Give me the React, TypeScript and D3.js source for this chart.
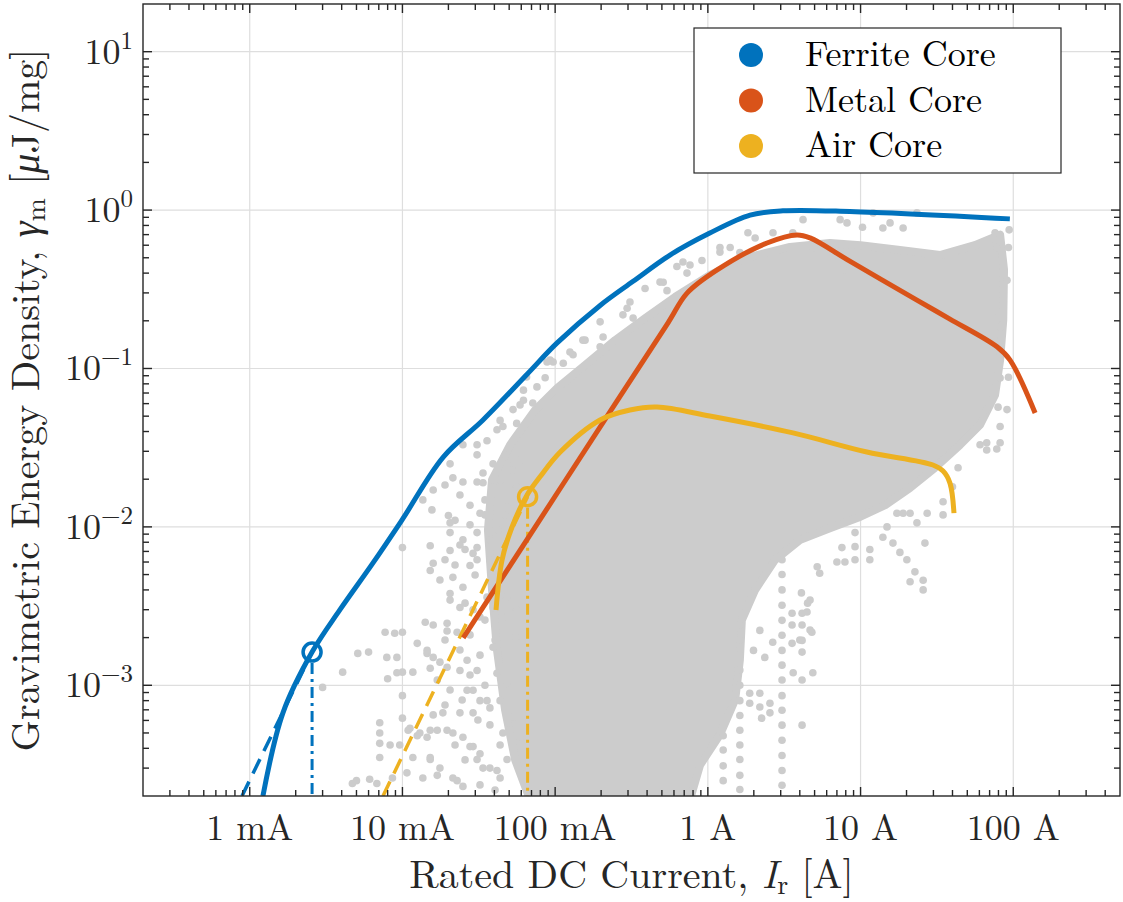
import React from "react";
import * as d3 from "d3";

// ---- values (current in A, energy density in uJ/mg)

// ferrite core bound (solid blue)
const ferriteI = [1.22e-3, 1.65e-3, 2.56e-3, 3.9e-3, 6.4e-3, 9.9e-3, 1.85e-2, 3.37e-2, 6.55e-2, 0.103, 0.197, 0.324, 0.565, 1.03, 1.89, 3.1, 8.5, 95];
const ferriteG = [2.0e-4, 6.7e-4, 1.62e-3, 3.0e-3, 5.9e-3, 1.1e-2, 2.76e-2, 4.73e-2, 9.2e-2, 0.145, 0.25, 0.355, 0.52, 0.716, 0.93, 0.99, 0.98, 0.88];
// metal core bound (orange)
const metalI = [0.025, 0.0769, 0.237, 0.55, 0.731, 1.15, 2.44, 3.84, 4.67, 8.5, 23.4, 38.5, 78.3, 95.3, 139];
const metalG = [1.99e-3, 0.01057, 0.0562, 0.195, 0.299, 0.419, 0.62, 0.697, 0.667, 0.476, 0.27, 0.205, 0.137, 0.113, 0.0524];
// air core bound (yellow)
const airI = [0.041, 0.0449, 0.0522, 0.0655, 0.0796, 0.108, 0.197, 0.309, 0.465, 1.03, 3.61, 11.0, 29.8, 34.7, 38.5, 40.9];
const airG = [2.99e-3, 6.18e-3, 9.98e-3, 0.0159, 0.0207, 0.0297, 0.0473, 0.0547, 0.0571, 0.0501, 0.0392, 0.0297, 0.0246, 0.0225, 0.0189, 0.0122];

// open circle markers + dashed asymptotes below them
const ferriteMark = [2.56e-3, 1.62e-3];
const airMark = [0.066, 0.0155];
const ferriteAsymI = [8.9e-4, 2.56e-3];
const ferriteAsymG = [2e-4, 1.62e-3];
const airAsymI = [7.46e-3, 0.066];
const airAsymG = [2e-4, 0.0155];

// dense part of the inductor cloud (outline)
const cloudI = [0.0506, 0.0738, 0.103, 0.157, 0.247, 0.388, 0.61, 1.03, 1.75, 3.45, 6.3, 10, 18.1, 33.1, 56, 82,
  87, 86, 82, 76, 60.6, 44.8, 30.7, 21.1, 14.5, 10, 6.3, 4.0, 2.75, 2.04, 1.67, 1.62, 1.51, 1.2, 0.89, 0.764,
  0.0684, 0.0547, 0.047, 0.0416, 0.0386, 0.0363, 0.0386];
const cloudG = [0.0329, 0.0547, 0.0753, 0.105, 0.151, 0.208, 0.283, 0.389, 0.498, 0.585, 0.62, 0.6, 0.56, 0.52, 0.6, 0.7,
  0.42, 0.202, 0.113, 0.068, 0.044, 0.0329, 0.0236, 0.0176, 0.0137, 0.0116, 0.0098, 0.00826, 0.00617, 0.004, 0.00258, 0.00144, 0.00081, 0.000486, 0.000314, 0.00019,
  0.00019, 0.000338, 0.000698, 0.00167, 0.004, 0.00956, 0.0198];

// scattered inductors outside the dense part
const scatterPts: [number, number][] = [
  [0.010, 0.0074], [0.0152, 0.0076], [0.0152, 0.0053], [0.020, 0.0118], [0.0159, 0.0059], [0.0205, 0.0071], [0.0205, 0.0038],
  [0.0141, 0.0025], [0.0159, 0.0024], [0.0196, 0.0022], [0.0228, 0.00216], [0.0077, 0.00216], [0.0089, 0.00213], [0.010, 0.00216],
  [0.0051, 0.00159], [0.0060, 0.00162], [0.00406, 0.00121], [0.0030, 0.00097], [0.0092, 0.0015], [0.0079, 0.0015], [0.0125, 0.00184],
  [0.0145, 0.00159], [0.010, 0.00121], [0.0117, 0.00121], [0.0092, 0.0012], [0.0080, 0.0011], [0.010, 0.00086], [0.010, 0.00062],
  [0.0071, 0.00058], [0.0071, 0.0005], [0.0071, 0.00043], [0.0071, 0.00035], [0.0083, 0.00042], [0.0096, 0.00042], [0.0109, 0.00052],
  [0.0130, 0.0005], [0.0152, 0.00052], [0.0159, 0.00065], [0.0184, 0.00067], [0.0238, 0.00067], [0.029, 0.00067], [0.0374, 0.00072],
  [0.0117, 0.00035], [0.0152, 0.00034], [0.0176, 0.0003], [0.0214, 0.00026], [0.0050, 0.00025], [0.0061, 0.000255], [0.0086, 0.00026],
  [0.0238, 0.0031], [0.029, 0.0030], [0.0322, 0.0027], [0.0265, 0.00144], [0.0308, 0.00124], [0.029, 0.0068], [0.0277, 0.0057],
  [0.0358, 0.0036], [0.0392, 0.0031], [0.0392, 0.00174], [0.0436, 0.0008], [0.0455, 0.0005], [0.029, 0.00093], [0.0358, 0.0008],
  [0.0484, 0.00034], [0.0374, 0.0003],
  [0.157, 0.151], [0.131, 0.122], [0.0927, 0.113], [0.113, 0.108], [0.065, 0.0884], [0.076, 0.0765], [0.062, 0.073], [0.062, 0.063],
  [0.0416, 0.041], [0.0455, 0.043], [0.056, 0.045], [0.0249, 0.033], [0.0308, 0.033], [0.0308, 0.0285], [0.0358, 0.035], [0.0205, 0.025],
  [0.0159, 0.0171], [0.0136, 0.0148], [0.0156, 0.0128], [0.0214, 0.0204], [0.0249, 0.0192], [0.0308, 0.0192], [0.0337, 0.0219],
  [0.0205, 0.0106], [0.0205, 0.0092], [0.0249, 0.0083], [0.0308, 0.0092], [0.0257, 0.0072], [0.019, 0.0062], [0.0214, 0.0048],
  [0.0249, 0.00416], [0.0257, 0.0033], [0.0322, 0.0122], [0.0374, 0.0083], [0.0308, 0.0074], [0.0308, 0.0062], [0.0196, 0.00246],
  [0.0484, 0.025], [0.0392, 0.025], [0.0337, 0.019], [0.0392, 0.0179], [0.0484, 0.0134], [0.056, 0.0179], [0.0484, 0.0036],
  [0.0484, 0.0027], [0.056, 0.003], [0.055, 0.002],
  [0.0145, 0.00166], [0.0159, 0.0015], [0.0176, 0.0014], [0.0196, 0.0013], [0.0112, 0.000535], [0.0125, 0.00048], [0.0145, 0.00047],
  [0.0169, 0.00052], [0.0196, 0.00052], [0.0214, 0.0005], [0.0249, 0.00047], [0.0277, 0.00041], [0.0152, 0.00035], [0.0169, 0.00027],
  [0.0107, 0.00028], [0.0136, 0.00026], [0.0249, 0.00023], [0.0228, 0.00025], [0.0068, 0.00024], [0.0047, 0.00024], [0.0308, 0.00034],
  [0.0337, 0.0003], [0.0416, 0.00029], [0.0436, 0.00026], [0.029, 0.00041], [0.0322, 0.00037], [0.0505, 0.00052], [0.053, 0.00063],
  [0.059, 0.00047], [0.0416, 0.00119], [0.0484, 0.00103], [0.0265, 0.00093], [0.0238, 0.00124], [0.0322, 0.0008], [0.0152, 0.00128],
  [0.0169, 0.00108],
  // between 15 mA and 40 mA, left of the dense part
  [0.047, 0.0284], [0.0589, 0.0264], [0.0522, 0.0229], [0.0436, 0.0198],
  [0.019, 0.0184], [0.0238, 0.0159], [0.0277, 0.0137], [0.0347, 0.0148], [0.0221, 0.011], [0.0277, 0.0103], [0.0347, 0.0119],
  [0.0238, 0.00768], [0.0374, 0.00617], [0.0221, 0.00574], [0.0299, 0.00497], [0.0176, 0.00462], [0.0347, 0.00258], [0.0277, 0.00208],
  [0.0205, 0.00345], [0.0404, 0.00193], [0.0238, 0.00167], [0.0322, 0.00155], [0.019, 0.00193],
  [0.0205, 0.000934], [0.0246, 0.000808], [0.0312, 0.000604], [0.0374, 0.000562], [0.0436, 0.00042], [0.0257, 0.000338],
  [0.0322, 0.000235], [0.0404, 0.000218], [0.0221, 0.00042], [0.019, 0.000751], [0.0277, 0.00116], [0.0347, 0.001],
  [0.0436, 0.00664], [0.0436, 0.00371], [0.0423, 0.00956], [0.047, 0.0119],
  // just under the ferrite bound
  [0.0589, 0.0589], [0.086, 0.0874], [0.125, 0.127], [0.197, 0.197], [0.309, 0.263], [0.486, 0.351], [0.764, 0.45], [1.2, 0.543], [2.04, 0.666],
  // high-current side
  [3.56, 0.00285], [4.14, 0.00285], [3.56, 0.0024], [4.14, 0.0024], [3.56, 0.00184], [4.14, 0.00192], [4.14, 0.00162], [3.62, 0.0012],
  [4.87, 0.0012], [4.14, 0.00108], [4.8, 0.00216], [4.5, 0.0033], [1.88, 0.00089], [2.19, 0.00089], [1.88, 0.00077], [2.19, 0.00073],
  [2.55, 0.00077], [2.55, 0.00067], [2.25, 0.00062], [4.14, 0.00056], [1.99, 0.00166], [2.36, 0.0015], [2.66, 0.00187], [2.19, 0.00222],
  [67, 0.055], [82, 0.043], [82, 0.034], [67, 0.0306], [60.6, 0.033], [91, 0.055], [43.5, 0.0236], [40, 0.0179], [34.7, 0.0144],
  [34.7, 0.0119], [27.3, 0.0122], [23.4, 0.0106], [26.4, 0.0079], [16.3, 0.0079], [18.1, 0.0069], [20.1, 0.0062], [22.7, 0.0052],
  [25.7, 0.0046], [25.7, 0.004], [21.1, 0.0045], [11.5, 0.0072], [11.5, 0.0062], [9.2, 0.0092], [9.2, 0.0075], [9.2, 0.0062],
  [7.0, 0.006], [7.9, 0.006], [7.55, 0.0074], [5.4, 0.0051], [5.2, 0.0056], [4.67, 0.00345], [4.46, 0.0029], [4.67, 0.00223],
  [4.0, 0.00193], [4.1, 0.00383], [14, 0.0086], [14.9, 0.01], [17.3, 0.0122], [19, 0.0122], [21.1, 0.0122],
  [94, 0.75], [93, 0.58], [76, 0.72], [78, 0.58], [23.4, 0.96], [19, 0.77], [15.6, 0.83], [14, 0.77], [12.1, 0.96], [10.3, 0.78],
  [91, 0.36], [79.5, 0.208], [82, 0.183], [79.5, 0.057], [67, 0.034], [78, 0.031], [93, 0.088], [82, 0.087],
  [4.2, 0.87], [7.35, 0.87], [8.15, 0.83], [1.83, 0.72], [2.67, 0.72], [1.2, 0.58], [1.4, 0.58], [1.62, 0.54], [0.915, 0.48],
  [0.687, 0.47], [0.627, 0.44], [0.73, 0.40], [0.388, 0.32], [0.51, 0.35], [0.54, 0.31], [0.296, 0.24], [0.278, 0.218], [0.324, 0.208],
  [0.206, 0.158], [0.152, 0.151], [0.197, 0.137], [0.097, 0.11], [0.0885, 0.11], [0.0714, 0.0606], [0.053, 0.055], [0.0436, 0.047],
  [3.6, 0.72], [4.9, 0.58], [6.6, 0.51], [7.7, 0.42],
];

// vertical columns of parts with the same rating
const columnI = [3.06, 1.62, 1.26];
const columnG = [
  [0.0062, 0.005, 0.004, 0.0032, 0.00257, 0.00207, 0.00166, 0.00134, 0.00108, 0.00086, 0.000695, 0.00056, 0.00045, 0.00036, 0.00029, 0.000234],
  [0.0024, 0.00193, 0.00155, 0.00125, 0.001, 0.0008, 0.000645, 0.00052, 0.00042, 0.00034, 0.00027, 0.00022],
  [0.00048, 0.00039, 0.00031, 0.00025],
];

const xTickVals = [1e-3, 1e-2, 1e-1, 1, 10, 100];
const xTickLabels = ["1 mA", "10 mA", "100 mA", "1 A", "10 A", "100 A"];
const yTickVals = [10, 1, 0.1, 0.01, 0.001];
const yTickExps = ["1", "0", "\u22121", "\u22122", "\u22123"];

const legendNames = ["Ferrite Core", "Metal Core", "Air Core"];
const colors = ["#0072BD", "#D95319", "#EDB120"];

const FONT = "'Latin Modern Roman', 'CMU Serif', 'Liberation Serif', serif";

// ----- geometry
const left = 143, right = 1120, top = 4, bottom = 796;
const x = d3.scaleLog().domain([2e-4, 500]).range([left, right]);
const y = d3.scaleLog().domain([2e-4, 20]).range([bottom, top]);

const minorTicks = (dom: number[]) => {
  const out: number[] = [];
  for (let e = -4; e <= 2; e++)
    for (let k = 2; k <= 9; k++) {
      const v = k * Math.pow(10, e);
      if (v > dom[0] && v < dom[1]) out.push(v);
    }
  return out;
};

const zip = (a: number[], b: number[]) => a.map((v, i) => [v, b[i]] as [number, number]);

export default function App() {
  const curve = d3
    .line<[number, number]>()
    .x(d => x(d[0]))
    .y(d => y(d[1]))
    .curve(d3.curveCatmullRom.alpha(0.5));
  const straight = d3
    .line<[number, number]>()
    .x(d => x(d[0]))
    .y(d => y(d[1]));
  const closed = d3
    .line<[number, number]>()
    .x(d => x(d[0]))
    .y(d => y(d[1]))
    .curve(d3.curveLinearClosed);

  const xMinor = minorTicks([2e-4, 500]);
  const yMinor = minorTicks([2e-4, 20]);
  const gray = "#cccccc";
  const axisCol = "#262626";
  const tl = 9;
  const tlm = 6;
  const markR = 9;

  return (
    <svg width={1123} height={902} style={{ position: "absolute", left: 0, top: 0, background: "#fff" }} fontFamily={FONT}>
      <defs>
        <clipPath id="plot">
          <rect x={left} y={top} width={right - left} height={bottom - top} />
        </clipPath>
      </defs>
      <rect x={0} y={0} width={1123} height={902} fill="#fff" />

      {/* grid */}
      <g stroke="#dedede" strokeWidth={1.2}>
        {xTickVals.map(v => (
          <line key={"gx" + v} x1={x(v)} x2={x(v)} y1={top} y2={bottom} />
        ))}
        {yTickVals.map(v => (
          <line key={"gy" + v} x1={left} x2={right} y1={y(v)} y2={y(v)} />
        ))}
      </g>

      <g clipPath="url(#plot)">
        {/* inductor cloud */}
        <path d={closed(zip(cloudI, cloudG)) || ""} fill={gray} stroke={gray} strokeWidth={8} strokeLinejoin="round" />
        {scatterPts.map((p, i) => (
          <circle key={"s" + i} cx={x(p[0])} cy={y(p[1])} r={3.8} fill={gray} />
        ))}
        {columnI.map((ci, j) =>
          columnG[j].map((g, i) => <circle key={"c" + j + "-" + i} cx={x(ci)} cy={y(g)} r={3.8} fill={gray} />)
        )}

        {/* dashed asymptotes */}
        <path d={straight(zip(ferriteAsymI, ferriteAsymG)) || ""} fill="none" stroke={colors[0]} strokeWidth={3.5} strokeDasharray="16 9" />
        <path d={straight(zip(airAsymI, airAsymG)) || ""} fill="none" stroke={colors[2]} strokeWidth={3.5} strokeDasharray="16 9" />

        {/* dash-dot drop lines */}
        <line x1={x(ferriteMark[0])} x2={x(ferriteMark[0])} y1={y(ferriteMark[1]) + markR + 2} y2={bottom} stroke={colors[0]} strokeWidth={3} strokeDasharray="11 5 3 5" />
        <line x1={x(airMark[0])} x2={x(airMark[0])} y1={y(airMark[1]) + markR + 2} y2={bottom} stroke={colors[2]} strokeWidth={3} strokeDasharray="11 5 3 5" />

        {/* bound curves */}
        <path d={curve(zip(ferriteI, ferriteG)) || ""} fill="none" stroke={colors[0]} strokeWidth={5} strokeLinejoin="round" />
        <path d={curve(zip(metalI, metalG)) || ""} fill="none" stroke={colors[1]} strokeWidth={5} strokeLinejoin="round" />
        <path d={curve(zip(airI, airG)) || ""} fill="none" stroke={colors[2]} strokeWidth={5} strokeLinejoin="round" />

        <circle cx={x(ferriteMark[0])} cy={y(ferriteMark[1])} r={markR} fill="none" stroke={colors[0]} strokeWidth={3.5} />
        <circle cx={x(airMark[0])} cy={y(airMark[1])} r={markR} fill="none" stroke={colors[2]} strokeWidth={3.5} />
      </g>

      {/* axes box and ticks */}
      <g stroke={axisCol} strokeWidth={1.4}>
        <rect x={left} y={top} width={right - left} height={bottom - top} fill="none" />
        {xTickVals.map(v => (
          <g key={"xt" + v}>
            <line x1={x(v)} x2={x(v)} y1={bottom} y2={bottom - tl} />
            <line x1={x(v)} x2={x(v)} y1={top} y2={top + tl} />
          </g>
        ))}
        {xMinor.map(v => (
          <g key={"xm" + v}>
            <line x1={x(v)} x2={x(v)} y1={bottom} y2={bottom - tlm} />
            <line x1={x(v)} x2={x(v)} y1={top} y2={top + tlm} />
          </g>
        ))}
        {yTickVals.map(v => (
          <g key={"yt" + v}>
            <line x1={left} x2={left + tl} y1={y(v)} y2={y(v)} />
            <line x1={right} x2={right - tl} y1={y(v)} y2={y(v)} />
          </g>
        ))}
        {yMinor.map(v => (
          <g key={"ym" + v}>
            <line x1={left} x2={left + tlm} y1={y(v)} y2={y(v)} />
            <line x1={right} x2={right - tlm} y1={y(v)} y2={y(v)} />
          </g>
        ))}
      </g>

      {/* tick labels */}
      <g fill={axisCol} fontSize={36}>
        {xTickVals.map((v, i) => (
          <text key={"xl" + v} x={x(v)} y={840} textAnchor="middle">
            {xTickLabels[i]}
          </text>
        ))}
        {yTickVals.map((v, i) => (
          <text key={"yl" + v} x={133} y={y(v) + 12} textAnchor="end">
            10
            <tspan dy={-15} fontSize={25}>
              {yTickExps[i]}
            </tspan>
          </text>
        ))}
      </g>

      {/* axis labels */}
      <text x={(left + right) / 2} y={888} textAnchor="middle" fontSize={40} fill={axisCol}>
        Rated DC Current, <tspan fontStyle="italic">I</tspan>
        <tspan fontSize={28} dy={6}>r</tspan>
        <tspan dy={-6}> [A]</tspan>
      </text>
      <text transform={`translate(39,${(top + bottom) / 2}) rotate(-90)`} textAnchor="middle" fontSize={40} fill={axisCol}>
        Gravimetric Energy Density, <tspan fontStyle="italic">γ</tspan>
        <tspan fontSize={28} dy={6}>m</tspan>
        <tspan dy={-6}> [</tspan>
        <tspan fontStyle="italic">μ</tspan>J/mg]
      </text>

      {/* legend */}
      <g>
        <rect x={694} y={28} width={367} height={145} fill="#fff" stroke="#262626" strokeWidth={1.2} />
        {legendNames.map((n, i) => (
          <g key={n} transform={`translate(0,${55 + i * 45.5})`}>
            <circle cx={751} cy={0} r={12} fill={colors[i]} />
            <text x={805} y={11} fontSize={36} fill="#000">
              {n}
            </text>
          </g>
        ))}
      </g>
    </svg>
  );
}
